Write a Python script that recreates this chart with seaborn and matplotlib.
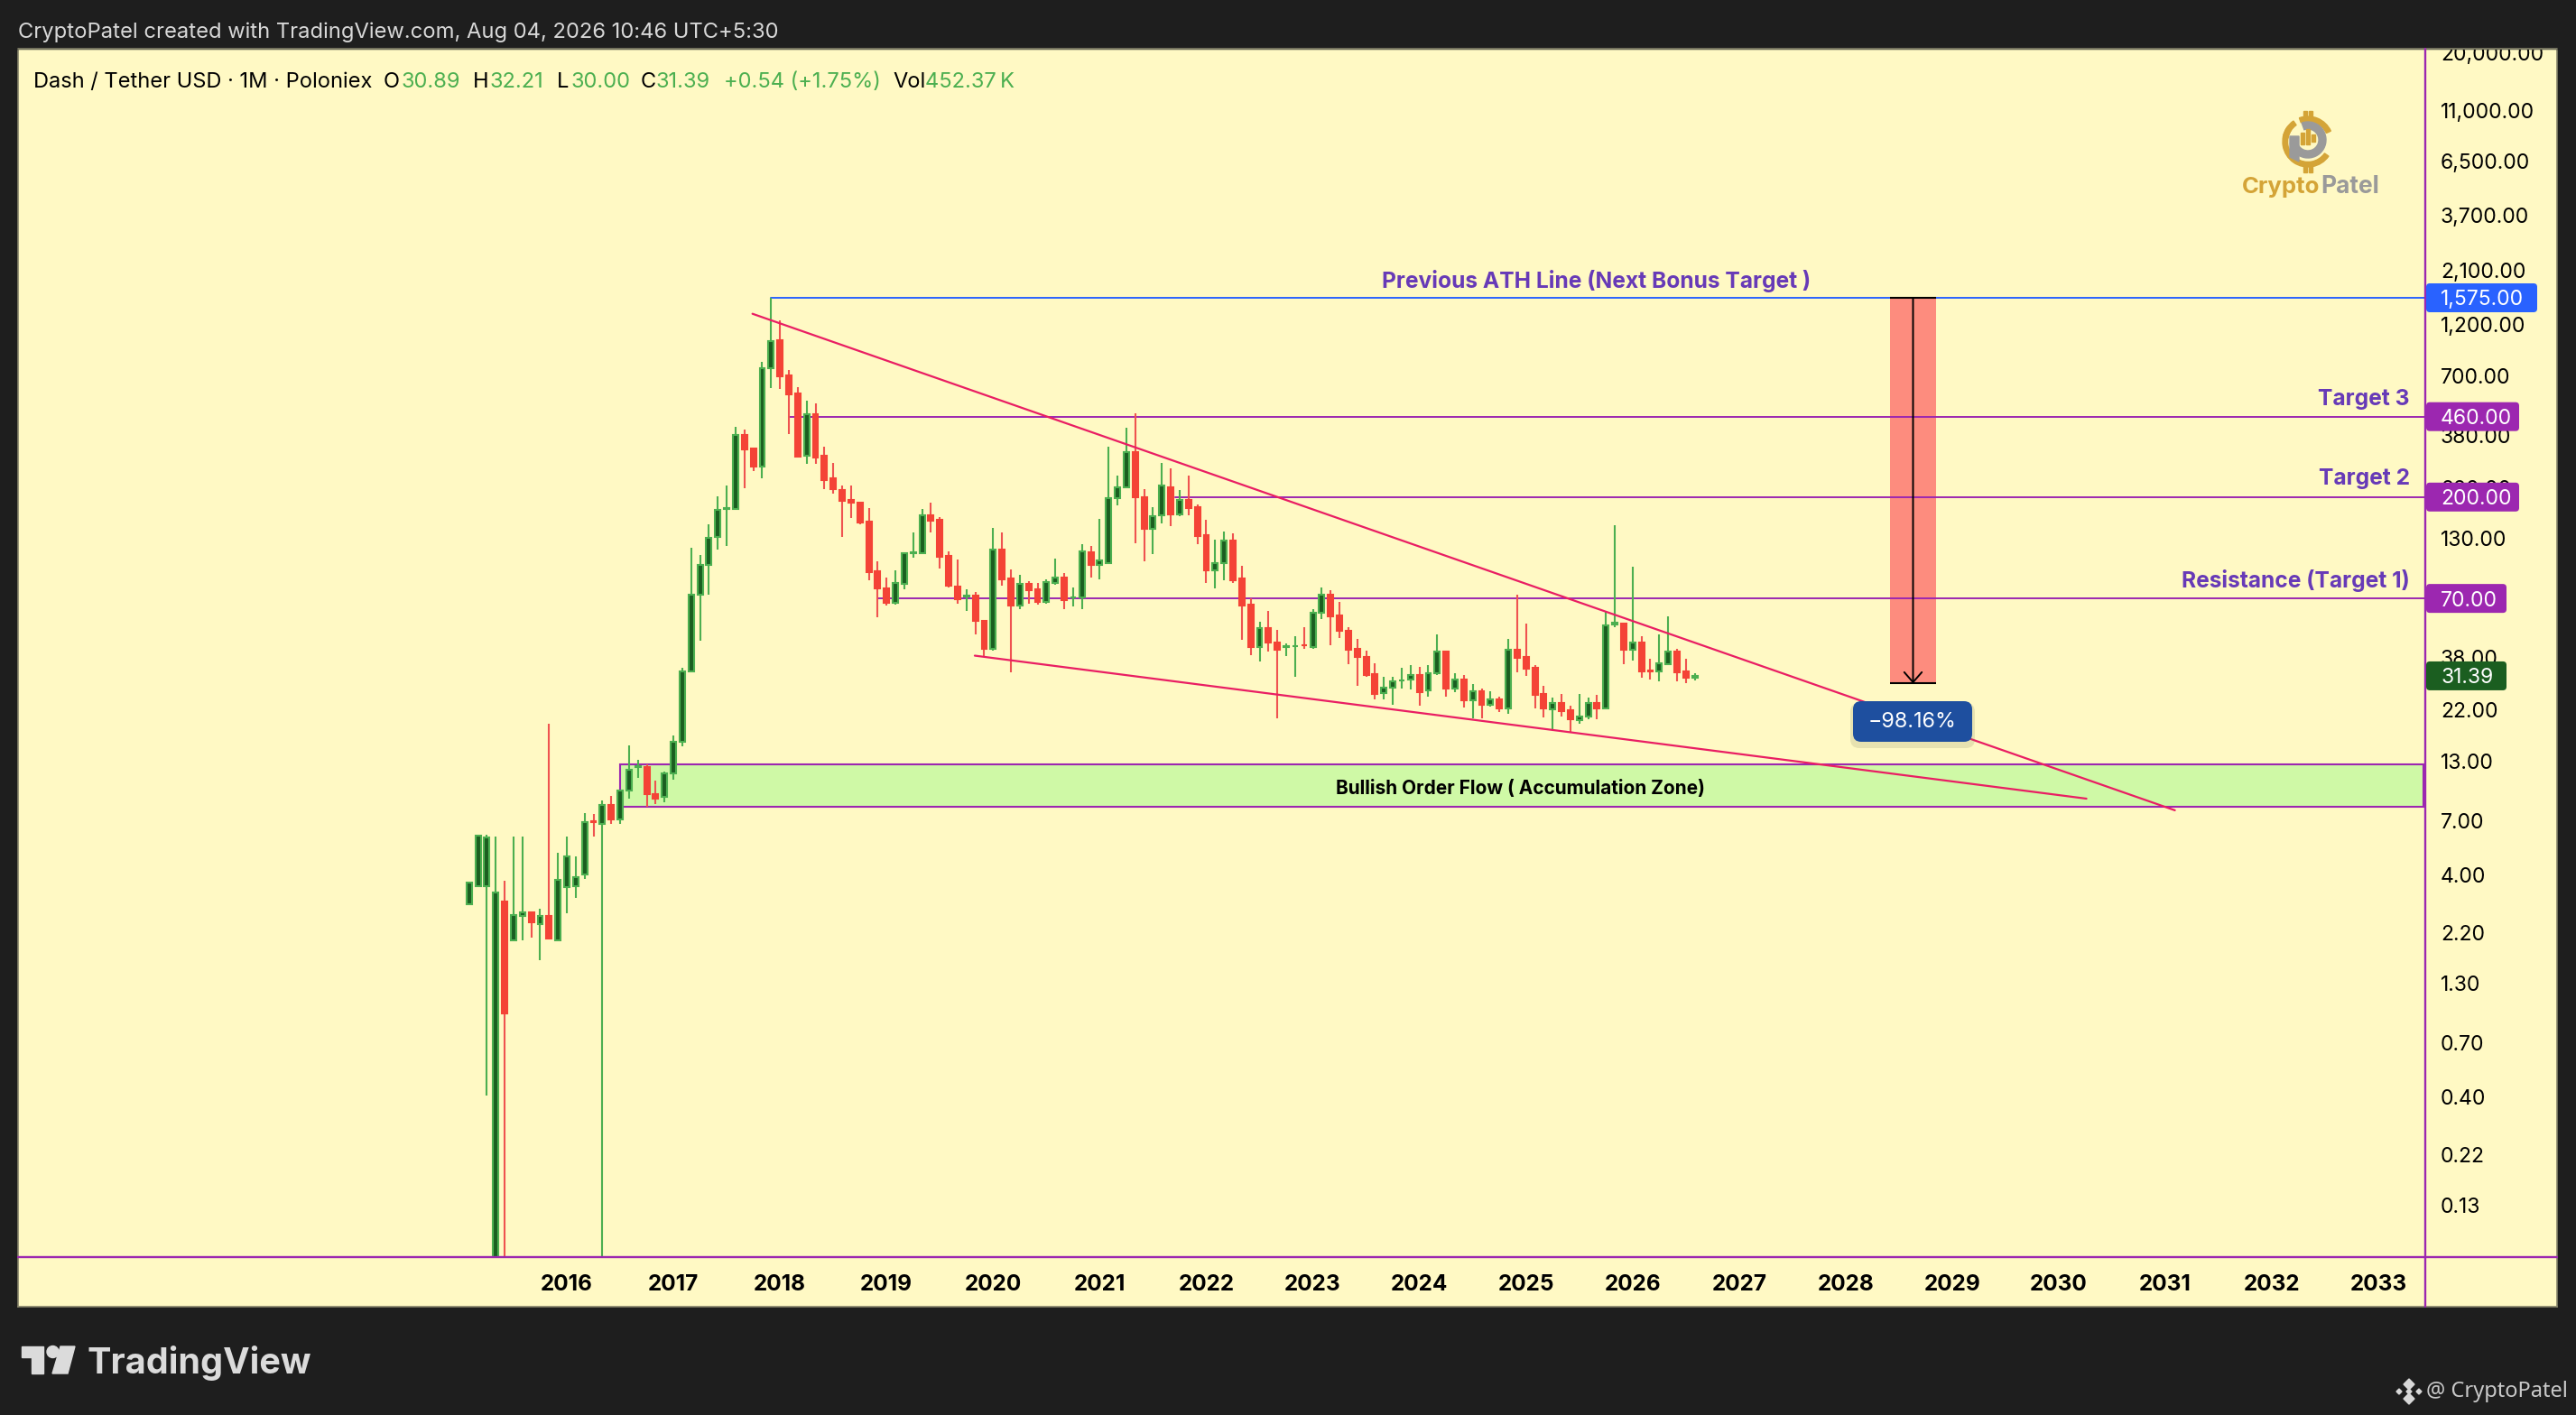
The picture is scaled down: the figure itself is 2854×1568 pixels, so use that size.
import numpy as np
import pandas as pd
import seaborn as sns
import matplotlib.pyplot as plt
from matplotlib.patches import Rectangle, FancyBboxPatch, Circle, Polygon, Wedge
from matplotlib.ticker import FixedLocator, FuncFormatter

# Monthly DASH/USDT candles, Feb 2015 to Aug 2026
opens = [2.94, 3.55, 3.57, 0.05, 3.04, 2.02, 2.61, 2.72, 2.41, 2.60,
         2.02, 3.53, 3.57, 4.03, 6.98, 6.80, 8.21, 7.07, 9.53, 12.2,
         12.2, 9.26, 8.95, 11.4, 15.9, 32.9, 72.6, 98.9, 132, 177,
         177, 380, 330, 275, 758, 1012, 705, 584, 306, 470,
         306, 242, 216, 195, 189, 155, 92.6, 77.5, 67, 81.7,
         112, 111.7, 165.5, 158, 109, 79, 71.5, 71.9, 55.5, 41.6,
         115.8, 85.8, 64.9, 81.3, 76.9, 67.8, 82.2, 86.8, 70.6, 70.7,
         112.6, 99.3, 101, 197.5, 222, 318, 199.6, 144.5, 165, 222,
         166.5, 193.8, 180, 134.5, 94, 101, 127.7, 85.8, 65.4, 42.5,
         51.5, 44.2, 42.5, 42.6, 43.3, 42.5, 60.3, 72.6, 58.7, 50,
         41.4, 38.1, 31.9, 26.2, 27.8, 29.8, 30.1, 31.7, 26.9, 32.3,
         40.2, 27.6, 30.2, 24.4, 26.7, 23.3, 24.7, 22.4, 41.2, 38.1,
         34.1, 26.1, 22.2, 23.7, 22, 19.9, 20.6, 23.7, 22.4, 53.3,
         53.8, 41.3, 44.3, 33.2, 32.8, 35.4, 40.2, 32.9, 30.89]
highs = [3.70, 6.01, 6.07, 5.95, 3.76, 5.95, 5.95, 2.72, 2.82, 19.1,
         5.03, 5.95, 4.84, 7.59, 7.52, 8.65, 9.06, 9.58, 15.3, 13.2,
         12.5, 10.6, 11.6, 17.0, 34.2, 118, 110, 151, 202, 226,
         414, 403, 330, 811, 1575, 1247, 744, 625, 541, 528,
         337, 285, 225, 225, 190, 178, 102.5, 86.8, 93.5, 112,
         139, 177, 189, 163, 114, 105, 77, 74.7, 55.9, 145,
         139, 94.6, 89, 83.9, 82.5, 85.1, 105.8, 91, 78.4, 123,
         120.6, 160, 337, 250, 410, 476, 217, 180, 285, 269,
         215, 250, 185, 158, 128.8, 140, 138, 97.9, 69.9, 55,
         61.6, 50.6, 44, 47.4, 52.1, 62.6, 78.4, 76.3, 67.6, 52.1,
         46, 40.7, 35.7, 31, 31, 34.1, 35, 34.4, 35, 48.2,
         40.7, 32.2, 31.7, 28.8, 27.5, 26.7, 25.2, 46, 72.8, 53.8,
         35, 28.2, 25, 26, 23, 26, 25, 25.9, 61.4, 149.5,
         53.8, 97, 47.4, 37.5, 48.2, 58.2, 41.4, 37.5, 32.21]
lows = [2.94, 3.55, 0.407, 0.05, 0.05, 2.02, 2.03, 2.09, 1.65, 2.07,
        2.02, 2.69, 3.15, 3.83, 5.95, 0.05, 6.80, 6.80, 8.84, 10.9,
        8.09, 8.34, 8.45, 10.7, 15.2, 32.7, 45.2, 72.8, 116, 121,
        175, 220, 262, 243, 619, 613, 384, 301, 282, 282,
        217, 207, 132, 161, 151, 84.8, 57.7, 65, 65.7, 77.2,
        107, 111.7, 139, 95.5, 78.4, 66.3, 61.5, 48.3, 38.7, 40.8,
        79.9, 32.6, 62.7, 66.3, 65.7, 66.3, 80.6, 62.7, 64.4, 62.7,
        87, 85.4, 101, 183.7, 222, 124, 102.9, 110.6, 152.4, 148,
        164.5, 166, 123, 82.4, 77.8, 84.2, 82.4, 45.7, 39, 36.5,
        40.4, 20.2, 38.6, 31.1, 41.4, 41.5, 56.6, 43.2, 46.5, 35.4,
        28.3, 31.1, 24.6, 24.6, 23.3, 27.6, 27.2, 23, 25.3, 31.7,
        25.3, 26.6, 22.6, 20.2, 20.2, 22.8, 21.6, 21.2, 32.6, 31.4,
        22.4, 20.4, 18.1, 20.6, 17.6, 19.1, 20, 20, 22.2, 52.1,
        35.4, 36.9, 30.8, 30.2, 29.7, 35.1, 29.7, 29.1, 30.00]
closes = [3.70, 6.01, 5.91, 3.32, 0.956, 2.64, 2.72, 2.45, 2.60, 2.07,
          3.79, 4.82, 3.89, 6.88, 6.93, 8.21, 7.12, 9.58, 11.9, 12.3,
          9.26, 8.84, 11.4, 15.9, 32.8, 72.6, 98.9, 131, 175, 178,
          380, 329, 275, 758, 1003, 700, 581, 305, 473, 302,
          239, 218, 193, 188, 154, 92.3, 78, 67, 82, 112,
          112.4, 165.5, 157, 108, 79.9, 69.6, 71.8, 55.5, 41.6, 115.8,
          85.5, 65.1, 81.3, 76.3, 67.7, 82.8, 86.8, 68.9, 70.9, 113.8,
          99.3, 103.3, 197.5, 222, 318, 199, 144.5, 164, 225, 166.5,
          193.8, 178, 134, 94, 100.6, 127.7, 84.2, 65.1, 42.5, 51.5,
          44.5, 41.2, 42.7, 42.9, 43, 60.3, 72.6, 58.4, 49.9, 41.3,
          38, 31.7, 26, 27.9, 29.6, 30, 31.7, 26.6, 32.4, 40.2,
          27.6, 30.2, 24.4, 26.7, 23.3, 24.7, 22.4, 41.2, 37.9, 33.7,
          25.9, 22.4, 23.7, 21.8, 20, 20.6, 23.7, 22.4, 53.1, 54.2,
          41.3, 44.3, 32.9, 33, 35.7, 40.2, 32.6, 30.9, 31.39]

price_ticks = [20000, 11000, 6500, 3700, 2100, 1200, 700, 380, 220, 130, 70, 38,
               22, 13, 7, 4, 2.2, 1.3, 0.7, 0.4, 0.22, 0.13]
years = list(range(2016, 2034))

# Drawings on the chart: (month offset from Jan 2016, price)
level_ath = 1575
level_t3 = 460
level_t2 = 200
level_t1 = 70
last_price = 31.39
upper_x, upper_y = [20.9, 181.06], [1335, 7.80]
lower_x, lower_y = [45.93, 171.1], [38.7, 8.8]
zone_x, zone_low, zone_high = 6, 8.09, 12.6
drop_x0, drop_x1, drop_low = 149, 154.15, 28.98

BG = '#1E1E1E'
PANEL = '#FFF9C4'
PURPLE = '#9C27B0'
PINK = '#E91E63'
BLUE = '#2962FF'
UP = '#4CAF50'
UP_FILL = '#1B5E20'
DOWN = '#EF5350'
DOWN_FILL = '#F44336'
VIOLET = '#673AB7'
W, H = 2854, 1568

sns.set_theme(style="white")
plt.rcParams['font.family'] = ['Inter', 'DejaVu Sans']

months = pd.period_range('2015-02', '2026-08', freq='M')
df = pd.DataFrame({'open': opens, 'high': highs, 'low': lows, 'close': closes})
df['x'] = (months.year - 2016) * 12 + months.month - 1
df['up'] = df['close'] >= df['open']


def box(x0, y0, x1, y1):
    return [x0 / W, 1 - y1 / H, (x1 - x0) / W, (y1 - y0) / H]


fig = plt.figure(figsize=(W / 100, H / 100), dpi=100, facecolor=BG)

panel = fig.add_axes(box(20, 54, 2833, 1448), zorder=0)
panel.set_facecolor(PANEL)
panel.set_xticks([])
panel.set_yticks([])
for s in panel.spines.values():
    s.set_color('#85836A')
    s.set_linewidth(1.2)

ax = fig.add_axes(box(20, 54, 2687, 1393), zorder=1)
ax.patch.set_alpha(0)
ax.set_yscale('log')

# Levels and zone behind the candles
levels = [(23, level_ath, BLUE), (25.1, level_t3, PURPLE), (68.46, level_t2, PURPLE), (35.06, level_t1, PURPLE)]
for start, lvl, col in levels:
    sns.lineplot(x=[start, 209.25], y=[lvl, lvl], color=col, lw=1.4, ax=ax, zorder=1.5, estimator=None)
ax.add_patch(Rectangle((zone_x, zone_low), 209.0 - zone_x, zone_high - zone_low,
                       facecolor='#CFF9A6', edgecolor=PURPLE, lw=1.5, zorder=1))
ax.add_patch(Rectangle((drop_x0, drop_low), drop_x1 - drop_x0, level_ath - drop_low,
                       facecolor='#FD8C7E', edgecolor='none', zorder=1.2))

# Candles
for is_up, wick, edge, fill in [(True, UP, UP, UP_FILL), (False, DOWN, DOWN_FILL, DOWN_FILL)]:
    part = df[df['up'] == is_up]
    ax.vlines(part['x'], part['low'], part['high'], color=wick, lw=1.5, zorder=2)
    bottoms = part[['open', 'close']].min(axis=1)
    tops = part[['open', 'close']].max(axis=1)
    ax.bar(part['x'], tops - bottoms, bottom=bottoms, width=0.6, color=fill,
           edgecolor=edge, linewidth=1.5, zorder=2.5)

# Wedge lines on top
sns.lineplot(x=upper_x, y=upper_y, color=PINK, lw=1.6, ax=ax, zorder=3, estimator=None)
sns.lineplot(x=lower_x, y=lower_y, color=PINK, lw=1.6, ax=ax, zorder=3, estimator=None)

# Drop arrow
mid = (drop_x0 + drop_x1) / 2
ax.annotate('', xy=(mid, drop_low), xytext=(mid, level_ath),
            arrowprops=dict(arrowstyle='->,head_length=8,head_width=7', mutation_scale=1,
                            color='black', lw=1.4, shrinkA=0, shrinkB=0), zorder=4)
ax.hlines([drop_low, level_ath], drop_x0, drop_x1, color='black', lw=1.5, zorder=4)

ax.set_xlim(-61.79, 209.25)
ax.set_ylim(0.0763, 20776)
ax.set_xlabel('')
ax.set_ylabel('')
for s in ax.spines.values():
    s.set_visible(False)
ax.yaxis.tick_right()
ax.yaxis.set_major_locator(FixedLocator(price_ticks))
ax.yaxis.set_minor_locator(FixedLocator([]))
ax.yaxis.set_major_formatter(FuncFormatter(lambda v, _: f'{v:,.2f}'))
ax.set_xticks([(y - 2016) * 12 for y in years])
ax.set_xticklabels(years, fontweight='bold')
ax.tick_params(axis='y', length=0, pad=12.2, labelsize=16.5, labelcolor='black')
ax.tick_params(axis='x', length=0, pad=13.5, labelsize=17.5, labelcolor='black')
ax.grid(False)

# Overlay in picture pixels, for the header, price tags and footer
ov = fig.add_axes([0, 0, 1, 1], zorder=2)
ov.set_xlim(0, W)
ov.set_ylim(H, 0)
ov.axis('off')
ov.patch.set_alpha(0)


def price_y(p):
    return H - ax.transData.transform((0, p))[1]


ov.add_patch(Rectangle((0, 0), W, 53.5, color=BG, zorder=1))
ov.plot([20, 2833], [54, 54], color='#85836A', lw=1.2, zorder=1.5)
ov.plot([2687, 2687], [54, 1448], color=PURPLE, lw=1.7, zorder=2)
ov.plot([20, 2833], [1393, 1393], color=PURPLE, lw=1.7, zorder=2)

# Price tags on the scale
tags = [(level_ath, '1,575.00', BLUE, 2811), (level_t3, '460.00', PURPLE, 2791),
        (level_t2, '200.00', PURPLE, 2791), (level_t1, '70.00', PURPLE, 2777),
        (last_price, '31.39', UP_FILL, 2777)]
for p, label, col, right in tags:
    y = price_y(p)
    ov.add_patch(FancyBboxPatch((2688, y - 16), right - 2688, 32, boxstyle='round,pad=0,rounding_size=4',
                                facecolor=col, edgecolor='none', zorder=3))
    ov.text(2704, y, label, color='white', fontsize=16.5, va='center_baseline', ha='left', zorder=4)

# Chart labels
ov.text(1769, 311, 'Previous ATH Line (Next Bonus Target )', color=VIOLET, fontsize=17.7, fontweight='bold',
        ha='center', va='center', zorder=4)
ov.text(2670, 442, 'Target 3', color=VIOLET, fontsize=17.7, fontweight='bold', ha='right', va='center', zorder=4)
ov.text(2670, 531, 'Target 2', color=VIOLET, fontsize=17.7, fontweight='bold', ha='right', va='center', zorder=4)
ov.text(2670, 643, 'Resistance (Target 1)', color=VIOLET, fontsize=17.7, fontweight='bold', ha='right', va='center', zorder=4)
ov.text(1685, 874, 'Bullish Order Flow ( Accumulation Zone)', color='black', fontsize=15, fontweight='bold',
        ha='center', va='center', zorder=4)

# -98.16% label with its shadow
ov.add_patch(FancyBboxPatch((2050, 779), 138, 50, boxstyle='round,pad=0,rounding_size=10',
                            facecolor='#8A8A60', edgecolor='none', alpha=0.2, zorder=4))
ov.add_patch(FancyBboxPatch((2053, 777), 132, 45, boxstyle='round,pad=0,rounding_size=9',
                            facecolor='#1E4F9F', edgecolor='none', zorder=5))
ov.text(2119, 800, '\u221298.16%', color='white', fontsize=16.8, ha='center', va='center', zorder=6)

# Header and legend row
ov.text(20, 36, 'CryptoPatel created with TradingView.com, Aug 04, 2026 10:46 UTC+5:30', color='#D8D8D8',
        fontsize=17.1, va='center', ha='left', zorder=4)
ov.text(37, 90.7, 'Dash / Tether USD \u00b7 1M \u00b7 Poloniex', color='black', fontsize=17, va='center', zorder=4)
legend_row = [(425, 'O', 'black'), (445, '30.89', UP), (524, 'H', 'black'), (542, '32.21', UP),
              (617, 'L', 'black'), (632, '30.00', UP), (710, 'C', 'black'), (727, '31.39', UP),
              (802, '+0.54 (+1.75%)', UP), (989, 'Vol', 'black'), (1025, '452.37\u2009K', UP)]
for x, s, c in legend_row:
    ov.text(x, 90.7, s, color=c, fontsize=17, va='center', zorder=4)

# CryptoPatel logo
GOLD = '#D4A437'
GREY = '#9A9A9A'
cx, cy = 2557, 157
ov.add_patch(Wedge((cx, cy), 28, 35, 215, width=5.5, color=GOLD, zorder=4))
ov.add_patch(Wedge((cx, cy), 28, 190, 235, width=5.5, color=GOLD, zorder=4))
ov.add_patch(Wedge((cx, cy), 28, 250, 335, width=5.5, color=GOLD, zorder=4))
ov.add_patch(Rectangle((cx - 5, cy - 34), 3.5, 7, color=GOLD, zorder=4))
ov.add_patch(Rectangle((cx + 1, cy - 34), 3.5, 7, color=GOLD, zorder=4))
ov.add_patch(Rectangle((cx - 5, cy + 27), 3.5, 7, color=GOLD, zorder=4))
ov.add_patch(Rectangle((cx + 1, cy + 27), 3.5, 7, color=GOLD, zorder=4))
ov.add_patch(Wedge((cx, cy - 2), 20, 250, 170, width=8, color=GREY, zorder=4))
ov.add_patch(Polygon([(cx - 20, cy - 6), (cx - 10, cy - 6), (cx - 10, cy + 22), (cx - 20, cy + 17)], color=GREY, zorder=4))
for dx, top, bot in [(-6, -10, 3), (0, -14, 3), (6, -8, 0)]:
    ov.add_patch(Rectangle((cx + dx - 2, cy + top), 4, bot - top, color=GOLD, zorder=5))
ov.text(2484, 207, 'Crypto', color=GOLD, fontsize=18.5, fontweight='bold', va='center', ha='left', zorder=4)
ov.text(2571, 207, 'Patel', color=GREY, fontsize=19, fontweight='bold', va='center', ha='left', zorder=4)

# Footer
LOGO = '#DBDBDB'
ov.add_patch(Polygon([(24, 1492), (48, 1492), (48, 1522), (35, 1522), (35, 1504), (24, 1504)], color=LOGO, zorder=4))
ov.add_patch(Circle((58.5, 1498), 6.5, color=LOGO, zorder=4))
ov.add_patch(Polygon([(67, 1492), (83, 1492), (75, 1522), (58, 1522)], color=LOGO, zorder=4))
ov.text(97, 1510, 'TradingView', color=LOGO, fontsize=28.5, fontweight='bold', va='center', ha='left', zorder=4)
ov.text(2688, 1542, '@ CryptoPatel', color='#C8C8C8', fontsize=17, va='center', ha='left',
        family=['Noto Sans', 'DejaVu Sans'], zorder=4)
for dx, dy, r in [(0, -8, 6), (0, 8, 6), (-11, 0, 3), (11, 0, 3), (0, 0, 3)]:
    ov.add_patch(Polygon([(2669 + dx - r, 1542 + dy), (2669 + dx, 1542 + dy - r),
                          (2669 + dx + r, 1542 + dy), (2669 + dx, 1542 + dy + r)], color='#D8D8D8', zorder=4))

fig.savefig('out.png', dpi=100, facecolor=BG)
